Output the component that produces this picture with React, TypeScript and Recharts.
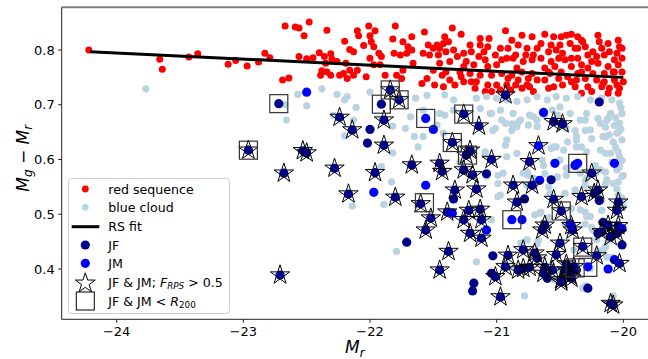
import React from 'react';
import { ScatterChart, Scatter, XAxis, YAxis, Legend, ReferenceLine } from 'recharts';

type P = [number, number];

const redSequence: P[] = [
  [-24.22,0.800],[-23.66,0.783],[-23.64,0.765],[-23.43,0.787],[-23.36,0.793],
  [-22.67,0.844],[-22.59,0.842],[-22.56,0.840],[-22.48,0.851],[-22.52,0.826],[-22.34,0.836],
  [-22.83,0.794],[-22.79,0.786],[-23.12,0.774],[-23.06,0.781],[-22.97,0.771],[-22.88,0.778],
  [-22.69,0.745],[-22.64,0.749],[-22.56,0.788],[-22.50,0.784],[-22.45,0.786],[-22.40,0.795],
  [-22.36,0.788],[-22.31,0.793],[-22.30,0.783],[-22.35,0.776],[-22.38,0.762],[-22.34,0.760],
  [-22.39,0.754],[-22.31,0.754],[-22.26,0.779],[-22.24,0.754],[-22.20,0.816],[-22.16,0.801],
  [-22.13,0.797],[-22.10,0.835],[-22.09,0.826],[-22.05,0.808],[-22.01,0.844],[-22.00,0.826],
  [-21.96,0.835],[-21.99,0.815],[-21.97,0.806],[-22.19,0.776],[-22.16,0.763],[-22.13,0.754],
  [-22.18,0.748],[-22.21,0.757],[-22.10,0.763],[-22.03,0.751],[-22.00,0.785],[-21.97,0.773],
  [-21.93,0.794],[-21.91,0.788],[-21.92,0.773],[-21.88,0.754],[-21.82,0.820],[-21.80,0.844],
  [-21.74,0.815],[-21.70,0.806],[-21.67,0.824],[-21.81,0.794],[-21.76,0.791],[-21.71,0.794],
  [-21.67,0.800],[-21.79,0.754],[-21.75,0.748],[-21.74,0.763],[-21.66,0.776],
  [-21.57,0.833],[-21.54,0.809],[-21.58,0.794],[-21.53,0.791],[-21.59,0.739],[-21.55,0.748],
  [-21.35,0.840],[-21.28,0.829],[-21.41,0.824],[-21.38,0.815],[-21.42,0.812],[-21.50,0.803],
  [-21.46,0.791],[-21.40,0.797],[-21.31,0.788],[-21.26,0.794],[-21.24,0.779],[-21.37,0.779],
  [-21.45,0.776],[-21.43,0.754],[-21.37,0.745],[-21.29,0.760],[-21.21,0.757],[-21.20,0.742],
  [-21.13,0.821],[-21.13,0.809],[-21.10,0.797],[-21.06,0.821],[-21.14,0.788],[-21.09,0.782],
  [-21.01,0.791],[-20.97,0.803],[-20.93,0.835],[-20.88,0.818],[-20.80,0.827],[-20.72,0.824],
  [-20.83,0.809],[-20.76,0.803],[-20.68,0.803],[-20.92,0.785],[-20.87,0.785],[-20.79,0.779],
  [-20.72,0.782],[-21.00,0.773],[-21.07,0.770],[-21.13,0.754],[-21.04,0.754],[-20.96,0.757],
  [-20.88,0.754],[-20.80,0.760],[-20.72,0.757],[-21.09,0.724],[-21.04,0.724],[-21.00,0.736],
  [-20.92,0.736],[-20.85,0.736],[-20.76,0.736],[-20.83,0.745],[-20.71,0.724],[-20.68,0.745],
  [-21.50,0.763],[-21.18,0.773],[-21.26,0.742],
  [-20.62,0.829],[-20.55,0.824],[-20.49,0.824],[-20.45,0.827],[-20.41,0.829],[-20.36,0.824],
  [-20.32,0.815],[-20.30,0.806],[-20.20,0.827],[-20.19,0.815],[-20.12,0.812],[-20.04,0.818],
  [-20.03,0.806],[-20.17,0.803],[-20.59,0.797],[-20.53,0.800],[-20.48,0.794],[-20.51,0.785],
  [-20.65,0.785],[-20.57,0.779],[-20.46,0.782],[-20.41,0.785],[-20.36,0.785],[-20.28,0.791],
  [-20.21,0.788],[-20.11,0.797],[-20.05,0.794],[-20.07,0.782],[-20.20,0.776],[-20.33,0.773],
  [-20.41,0.770],[-20.54,0.770],[-20.62,0.767],[-20.28,0.767],[-20.12,0.770],[-20.04,0.773],
  [-20.01,0.760],[-20.51,0.748],[-20.62,0.745],[-20.44,0.751],[-20.37,0.745],[-20.30,0.748],
  [-20.21,0.745],[-20.15,0.742],[-20.07,0.745],[-20.00,0.742],[-20.55,0.733],[-20.38,0.733],
  [-20.28,0.733],[-20.17,0.733],[-20.11,0.730],[-20.04,0.721],[-20.12,0.721],[-20.33,0.721],
  [-20.65,0.812],[-20.50,0.809],[-20.36,0.803],[-20.25,0.779],[-20.08,0.760],[-20.15,0.757],
  [-20.24,0.757],[-20.33,0.760],[-20.49,0.760],[-20.58,0.757],[-20.03,0.730],[-20.25,0.724],
  [-21.49,0.736],[-21.42,0.733],[-21.33,0.736],[-21.16,0.742],[-21.07,0.736],[-20.91,0.748],
  [-20.75,0.748],[-20.84,0.767],[-21.26,0.770],[-21.34,0.800],[-21.21,0.809],[-20.91,0.803],
  [-21.07,0.806],[-21.47,0.809],
  [-21.40,0.760],[-21.28,0.751],[-21.17,0.730],[-20.97,0.727],[-20.89,0.727],[-20.80,0.730],
  [-20.74,0.733],[-20.85,0.791],[-20.77,0.791],[-20.71,0.791],[-20.96,0.782],[-21.20,0.797],
  [-21.45,0.803],[-20.59,0.760],[-20.36,0.757],[-20.07,0.760],[-20.05,0.736],[-20.16,0.739],
  [-20.41,0.742],[-20.48,0.736],[-20.59,0.730],[-20.24,0.797],[-20.15,0.791],[-20.01,0.785],
  [-20.01,0.803],[-20.38,0.803],[-20.42,0.812],[-20.57,0.809],[-20.33,0.818],
];

const blueCloud: P[] = [
  [-23.77,0.729],[-22.57,0.719],[-22.38,0.729],[-22.50,0.698],[-22.66,0.672],[-22.67,0.700],
  [-22.26,0.719],[-22.18,0.715],[-22.20,0.709],[-22.11,0.695],[-22.00,0.723],[-22.20,0.643],
  [-22.29,0.681],[-22.13,0.672],[-21.82,0.661],[-21.72,0.657],[-21.68,0.678],[-21.64,0.712],
  [-21.65,0.642],[-21.82,0.612],[-21.91,0.587],[-21.62,0.623],[-21.83,0.559],[-22.14,0.515],
  [-21.89,0.518],[-21.79,0.432],
  [-21.55,0.717],[-21.41,0.718],[-21.34,0.709],[-21.16,0.712],[-21.08,0.715],[-21.00,0.712],
  [-20.92,0.709],[-20.84,0.706],[-20.76,0.709],[-20.68,0.715],[-20.60,0.709],[-20.53,0.715],
  [-20.45,0.712],[-20.36,0.715],[-20.26,0.709],[-20.17,0.712],[-20.09,0.709],[-20.03,0.703],
  [-20.01,0.684],[-20.03,0.666],[-20.05,0.648],[-20.01,0.636],[-20.10,0.684],[-20.13,0.672],
  [-20.18,0.666],[-20.29,0.684],[-20.34,0.672],[-20.42,0.684],[-20.50,0.696],[-20.56,0.690],
  [-20.71,0.678],[-20.75,0.663],[-20.81,0.672],[-20.87,0.684],[-20.97,0.690],[-21.05,0.684],
  [-21.13,0.693],[-21.24,0.684],[-21.34,0.690],[-21.45,0.684],[-21.58,0.690],[-21.47,0.663],
  [-21.58,0.642],[-21.42,0.648],[-21.01,0.657],[-20.93,0.666],[-20.84,0.660],[-20.68,0.660],
  [-20.45,0.657],[-20.37,0.642],[-20.26,0.654],[-20.16,0.642],[-20.55,0.623],[-20.47,0.617],
  [-20.37,0.623],[-20.29,0.614],[-20.18,0.617],[-20.10,0.611],[-20.03,0.605],[-20.92,0.636],
  [-20.84,0.611],[-20.92,0.605],[-21.09,0.614],[-20.64,0.599],[-20.50,0.599],[-20.45,0.584],
  [-20.34,0.575],[-20.18,0.581],[-20.05,0.581],[-20.76,0.578],[-20.95,0.575],[-21.08,0.569],
  [-20.62,0.681],[-20.52,0.681],[-20.30,0.672],[-20.30,0.653],[-20.38,0.653],[-20.37,0.635],
  [-20.44,0.632],[-20.53,0.623],[-20.57,0.620],[-20.33,0.623],[-20.25,0.638],[-20.20,0.675],
  [-20.14,0.659],[-20.12,0.675],[-20.07,0.662],[-20.04,0.650],[-20.14,0.641],[-20.08,0.632],
  [-20.04,0.614],[-20.03,0.586],[-20.14,0.611],[-20.22,0.589],[-20.14,0.577],[-20.00,0.571],
  [-20.62,0.574],[-20.52,0.568],[-20.45,0.571],[-20.63,0.589],[-20.44,0.583],[-20.30,0.562],
  [-20.14,0.556],[-20.04,0.559],[-20.38,0.544],[-20.04,0.535],[-20.17,0.525],[-20.17,0.507],
  [-20.41,0.510],[-20.30,0.504],[-20.65,0.504],[-20.00,0.516],
  [-21.41,0.681],[-21.04,0.684],[-20.96,0.672],[-20.88,0.665],[-20.83,0.668],[-20.74,0.681],
  [-20.68,0.672],[-21.03,0.653],[-20.88,0.653],[-20.93,0.626],[-21.09,0.608],[-20.99,0.571],
  [-20.77,0.574],[-20.75,0.571],[-20.97,0.535],[-20.70,0.550],[-21.29,0.595],[-21.18,0.611],
  [-20.99,0.556],[-20.99,0.532],[-20.79,0.575],[-20.71,0.566],[-20.76,0.553],[-20.59,0.550],
  [-20.58,0.538],[-20.46,0.538],[-20.30,0.553],[-20.29,0.566],[-20.22,0.575],[-20.13,0.563],
  [-20.08,0.556],[-20.01,0.569],[-20.34,0.508],[-20.29,0.496],[-20.24,0.471],[-20.26,0.496],
  [-20.70,0.499],[-20.66,0.502],[-20.68,0.446],[-20.81,0.447],[-20.39,0.435],[-20.21,0.453],
  [-20.16,0.435],[-20.13,0.422],[-21.16,0.413],[-20.78,0.351],[-20.32,0.365],[-20.54,0.380],
  [-20.26,0.401],[-20.50,0.398],
  [-21.04,0.490],[-20.76,0.453],[-20.30,0.482],[-20.25,0.476],[-20.46,0.482],[-20.41,0.467],
  [-20.14,0.440],[-20.20,0.433],[-20.09,0.421],[-20.12,0.452],[-20.30,0.369],[-20.08,0.351],
  [-20.67,0.452],[-20.59,0.494],
  [-20.02,0.695],[-20.06,0.676],[-20.02,0.655],[-20.06,0.622],[-20.01,0.598],[-20.05,0.546],
  [-20.01,0.530],[-20.09,0.595],[-20.11,0.645],
];

const rsFit: P[] = [[-24.21, 0.797], [-20.0, 0.750]];

const jf: P[] = [
  [-22.72,0.702],[-22.24,0.677],[-22.14,0.654],[-22.00,0.655],[-21.89,0.672],[-21.91,0.701],
  [-21.84,0.727],[-21.77,0.709],[-22.02,0.630],[-21.89,0.626],[-22.96,0.617],[-22.53,0.616],
  [-22.50,0.612],[-22.68,0.575],[-22.28,0.584],[-21.96,0.576],[-21.67,0.590],[-22.17,0.537],
  [-21.80,0.531],[-21.60,0.519],[-21.71,0.449],[-22.71,0.389],[-20.93,0.718],[-21.26,0.683],
  [-21.14,0.661],[-21.35,0.631],[-21.21,0.617],[-21.24,0.608],[-21.04,0.600],[-20.74,0.596],
  [-20.55,0.669],[-20.48,0.665],[-20.19,0.705],[-20.38,0.590],[-20.25,0.575],[-21.45,0.593],
  [-21.43,0.578],[-21.26,0.581],[-21.19,0.572],[-21.08,0.574],[-21.33,0.544],[-21.34,0.528],
  [-21.16,0.546],[-20.87,0.553],[-20.72,0.553],[-20.84,0.522],[-20.78,0.528],[-21.22,0.507],
  [-21.13,0.509],[-21.39,0.504],[-20.57,0.563],[-20.20,0.544],[-20.23,0.538],[-20.33,0.532],
  [-20.55,0.527],[-20.49,0.506],[-20.04,0.522],[-20.05,0.507],[-20.19,0.525],[-21.52,0.493],
  [-21.56,0.471],[-21.26,0.490],[-21.12,0.490],[-21.21,0.465],[-21.12,0.456],[-20.62,0.480],
  [-20.64,0.471],[-20.40,0.471],[-20.12,0.480],[-20.17,0.468],[-20.05,0.465],[-20.10,0.459],
  [-20.01,0.444],[-20.20,0.465],[-20.32,0.441],[-20.50,0.447],[-20.53,0.426],[-20.79,0.435],
  [-20.70,0.429],[-20.68,0.420],[-20.91,0.425],[-21.03,0.424],[-20.93,0.404],[-21.38,0.432],
  [-21.45,0.398],[-21.01,0.386],[-21.04,0.392],[-20.83,0.398],[-20.79,0.401],[-21.18,0.374],
  [-21.19,0.360],[-20.97,0.349],[-20.63,0.392],[-20.56,0.398],[-20.60,0.383],[-20.49,0.380],
  [-20.41,0.383],[-20.45,0.398],[-20.39,0.404],[-20.37,0.398],[-20.03,0.410],[-20.28,0.365],
  [-20.10,0.337],[-20.08,0.334],[-20.74,0.403],[-20.04,0.479],[-20.16,0.485],[-20.21,0.424],
  [-20.45,0.409],[-20.42,0.388],[-20.49,0.376],[-20.62,0.403],
];

const jm: P[] = [
  [-22.50,0.723],[-21.56,0.675],[-21.50,0.655],[-20.67,0.625],[-20.63,0.686],[-20.54,0.593],
  [-20.36,0.593],[-20.38,0.589],[-20.07,0.593],[-21.97,0.540],[-20.66,0.562],[-21.56,0.553],
  [-21.35,0.502],[-21.08,0.471],[-20.88,0.490],[-20.80,0.490],[-20.42,0.483],[-20.01,0.474],
  [-20.28,0.404],[-20.12,0.400],[-20.07,0.417],[-20.41,0.479],
];

const rpsStars: P[] = [
  [-22.24,0.677],[-22.14,0.654],[-21.89,0.672],[-21.84,0.727],[-21.77,0.709],[-21.89,0.626],
  [-22.96,0.617],[-22.53,0.616],[-22.50,0.612],[-22.68,0.575],[-22.28,0.584],[-21.96,0.576],
  [-21.67,0.590],[-22.17,0.537],[-21.80,0.531],[-21.60,0.519],[-22.71,0.389],[-20.93,0.718],
  [-21.26,0.683],[-21.14,0.661],[-21.35,0.631],[-21.21,0.617],[-21.24,0.608],[-21.04,0.600],
  [-20.74,0.596],[-20.55,0.669],[-20.48,0.665],[-20.25,0.575],[-21.45,0.593],[-21.43,0.578],
  [-21.26,0.581],[-21.19,0.572],[-21.33,0.544],[-21.16,0.546],[-20.87,0.553],[-20.72,0.553],
  [-20.84,0.522],[-21.22,0.507],[-21.13,0.509],[-21.39,0.504],[-20.20,0.544],[-20.23,0.538],
  [-20.33,0.532],[-20.55,0.527],[-20.49,0.506],[-20.04,0.522],[-20.05,0.507],[-21.52,0.493],
  [-21.56,0.471],[-21.26,0.490],[-21.12,0.490],[-21.21,0.465],[-21.12,0.456],[-20.62,0.480],
  [-20.64,0.471],[-20.40,0.471],[-20.12,0.480],[-20.17,0.468],[-20.05,0.465],[-20.10,0.459],
  [-20.32,0.441],[-20.50,0.447],[-20.53,0.426],[-20.79,0.435],[-20.70,0.429],[-20.68,0.420],
  [-20.91,0.425],[-20.93,0.404],[-21.38,0.432],[-21.45,0.398],[-21.01,0.386],[-20.83,0.398],
  [-20.79,0.401],[-20.97,0.349],[-20.63,0.392],[-20.56,0.398],[-20.49,0.380],[-20.41,0.383],
  [-20.45,0.398],[-20.39,0.404],[-20.03,0.410],[-20.10,0.337],[-20.08,0.334],[-20.74,0.403],
  [-20.04,0.479],[-20.21,0.424],[-20.45,0.409],[-20.42,0.388],[-20.49,0.376],[-20.62,0.403],
  [-20.67,0.625],[-20.41,0.479],
];

const inR200: P[] = [
  [-22.72,0.702],[-21.91,0.701],[-21.84,0.727],[-21.77,0.709],[-22.96,0.617],[-21.57,0.521],
  [-21.56,0.675],[-21.26,0.683],[-21.35,0.631],[-21.23,0.608],[-20.36,0.593],[-20.49,0.506],
  [-20.88,0.490],[-20.32,0.440],[-20.28,0.403],[-20.38,0.402],
];

const xTicks = [-24, -23, -22, -21, -20];
const yTicks = [0.4, 0.5, 0.6, 0.7, 0.8];
const xDomain: [number, number] = [-24.434, -19.805];
const yDomain: [number, number] = [0.3081, 0.878];

const toPts = (a: P[]) => a.map(([x, y]) => ({ x, y }));

const FONT = "'DejaVu Sans', sans-serif";
const RED = '#ff0000';
const LIGHTBLUE = '#add8e6';
const LB_EDGE = '#eab8c6';
const NAVY = '#00008b';
const BLUE = '#0000ff';

const circleShape = (r: number, fill: string, stroke = 'none', sw = 0) => (props: any) => {
  if (props.cx == null || props.cy == null) return <g />;
  return <circle cx={props.cx} cy={props.cy} r={r} fill={fill} stroke={stroke} strokeWidth={sw} />;
};

function starPath(cx: number, cy: number, R: number, r: number) {
  let d = '';
  for (let i = 0; i < 10; i++) {
    const rad = i % 2 === 0 ? R : r;
    const a = -Math.PI / 2 + (i * Math.PI) / 5;
    d += (i === 0 ? 'M' : 'L') + (cx + rad * Math.cos(a)).toFixed(2) + ',' + (cy + rad * Math.sin(a)).toFixed(2);
  }
  return d + 'Z';
}

const StarShape = (props: any) => {
  if (props.cx == null) return <g />;
  return <path d={starPath(props.cx, props.cy, 10.2, 3.9)} fill="none" stroke="#000" strokeWidth={1} />;
};

const SquareShape = (props: any) => {
  if (props.cx == null) return <g />;
  return <rect x={props.cx - 9} y={props.cy - 9} width={18} height={18} fill="none" stroke="#333" strokeWidth={1.2} />;
};

const fmtX = (v: number) => (v < 0 ? '\u2212' + Math.abs(v) : String(v));

const XTick = (props: any) => (
  <text x={props.x} y={props.y} dy="0.72em" textAnchor="middle" fontFamily={FONT} fontSize={13} fill="#000">
    {fmtX(props.payload.value)}
  </text>
);

const YTick = (props: any) => (
  <text x={props.x} y={props.y} dy="0.36em" textAnchor="end" fontFamily={FONT} fontSize={13} fill="#000">
    {props.payload.value.toFixed(1)}
  </text>
);

const XLabel = (props: any) => {
  const vb = props.viewBox || { x: 61.7, y: 319.3, width: 586.3 };
  const cx = vb.x + vb.width / 2;
  return (
    <text x={cx} y={vb.y + 34} textAnchor="middle" fontFamily={FONT} fontSize={17} fill="#000">
      <tspan fontStyle="italic">M</tspan>
      <tspan fontStyle="italic" fontSize={12} dy={3.5}>r</tspan>
    </text>
  );
};

const YLabel = (props: any) => {
  const vb = props.viewBox || { y: 7.3, height: 312 };
  const cy = vb.y + vb.height / 2 - 5;
  const x = 29;
  return (
    <text transform={`rotate(-90, ${x}, ${cy})`} x={x} y={cy} textAnchor="middle" fontFamily={FONT} fontSize={17} fill="#000">
      <tspan fontStyle="italic">M</tspan>
      <tspan fontStyle="italic" fontSize={12} dy={3.5}>g</tspan>
      <tspan dy={-3.5}>{' \u2212 '}</tspan>
      <tspan fontStyle="italic">M</tspan>
      <tspan fontStyle="italic" fontSize={12} dy={3.5}>r</tspan>
    </text>
  );
};

const LegendBox = () => {
  const rows = [11, 29.3, 48.7, 67, 85.3, 104.3, 123];
  const sx = 17.3;
  const tx = 40.3;
  const fs = 12.6;
  const ty = (c: number) => c + 4.5;
  return (
    <svg width={162} height={136} style={{ display: 'block' }}>
      <rect x={0.5} y={0.5} width={161} height={135} rx={3} ry={3} fill="#fff" fillOpacity={0.8} stroke="#cccccc" strokeWidth={1} />
      <circle cx={sx} cy={rows[0]} r={3.4} fill={RED} />
      <circle cx={sx} cy={rows[1]} r={3.4} fill={LIGHTBLUE} />
      <line x1={3.7} x2={31.3} y1={rows[2]} y2={rows[2]} stroke="#000" strokeWidth={3} />
      <circle cx={sx} cy={rows[3]} r={4.6} fill={NAVY} />
      <circle cx={sx} cy={rows[4]} r={4.6} fill={BLUE} />
      <path d={starPath(sx, rows[5] + 1, 10.5, 4)} fill="#fff" stroke="#000" strokeWidth={1} />
      <rect x={sx - 9} y={rows[6] - 9} width={18} height={18} fill="#fff" stroke="#000" strokeWidth={1} />
      <g fontFamily={FONT} fontSize={fs} fill="#000">
        <text x={tx} y={ty(rows[0])}>red sequence</text>
        <text x={tx} y={ty(rows[1])}>blue cloud</text>
        <text x={tx} y={ty(rows[2])}>RS fit</text>
        <text x={tx} y={ty(rows[3])}>JF</text>
        <text x={tx} y={ty(rows[4])}>JM</text>
        <text x={tx} y={ty(rows[5])}>
          {'JF & JM; '}
          <tspan fontStyle="italic">F</tspan>
          <tspan fontStyle="italic" fontSize={8.8} dy={2.5}>RPS</tspan>
          <tspan dy={-2.5}>{' > 0.5'}</tspan>
        </text>
        <text x={tx} y={ty(rows[6])}>
          {'JF & JM < '}
          <tspan fontStyle="italic">R</tspan>
          <tspan fontSize={8.8} dy={2.5}>200</tspan>
        </text>
      </g>
    </svg>
  );
};

export default function App() {
  return (
    <div style={{ position: 'absolute', left: 0, top: 0, width: 648, height: 359, background: '#fff' }}>
      <ScatterChart width={648} height={359} margin={{ top: 7.3, right: 0, bottom: 0, left: 0 }}>
        <XAxis
          type="number"
          dataKey="x"
          domain={xDomain}
          ticks={xTicks}
          interval={0}
          allowDataOverflow
          height={39.7}
          tickSize={3.5}
          tickMargin={3.5}
          stroke="#222"
          tick={<XTick />}
          label={<XLabel />}
        />
        <YAxis
          type="number"
          dataKey="y"
          domain={yDomain}
          ticks={yTicks}
          interval={0}
          allowDataOverflow
          width={61.7}
          tickSize={3.5}
          tickMargin={3.5}
          stroke="#222"
          tick={<YTick />}
          label={<YLabel />}
        />
        <ReferenceLine y={0.878} stroke="#808080" strokeWidth={2} ifOverflow="visible" />
        <Scatter name="red sequence" data={toPts(redSequence)} shape={circleShape(3.5, RED)} isAnimationActive={false} />
        <Scatter name="blue cloud" data={toPts(blueCloud)} shape={circleShape(3.4, LIGHTBLUE, LB_EDGE, 0.5)} isAnimationActive={false} />
        <Scatter name="RS fit" data={toPts(rsFit)} line={{ stroke: '#000', strokeWidth: 3 }} shape={() => <g />} isAnimationActive={false} />
        <Scatter name="JF" data={toPts(jf)} shape={circleShape(4.6, NAVY)} isAnimationActive={false} />
        <Scatter name="JM" data={toPts(jm)} shape={circleShape(4.6, BLUE)} isAnimationActive={false} />
        <Scatter name="JF & JM; F_RPS > 0.5" data={toPts(rpsStars)} shape={StarShape} isAnimationActive={false} />
        <Scatter name="JF & JM < R200" data={toPts(inR200)} shape={SquareShape} isAnimationActive={false} />
        <Legend
          layout="vertical"
          align="center"
          verticalAlign="middle"
          wrapperStyle={{ position: 'absolute', left: 68, top: 178, width: 162, height: 136 }}
          content={() => <LegendBox />}
        />
      </ScatterChart>
    </div>
  );
}
